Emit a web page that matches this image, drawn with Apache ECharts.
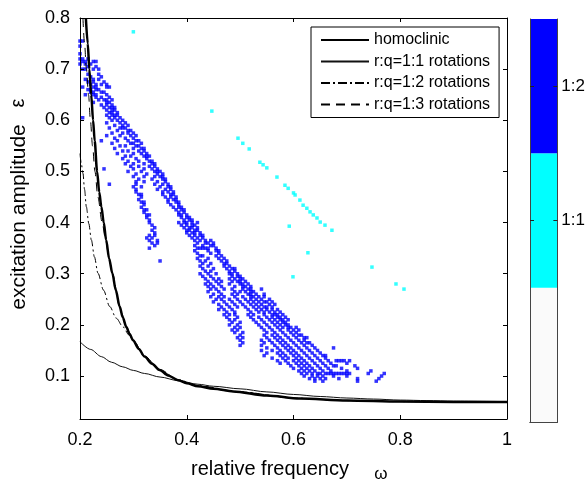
<!DOCTYPE html>
<html><head><meta charset="utf-8">
<script src="https://cdn.jsdelivr.net/npm/echarts@6/dist/echarts.min.js"></script>
<style>html,body{margin:0;padding:0;background:#fff}#c{width:588px;height:481px}</style>
</head><body><div id="c"></div><script>
const FONT = '"Liberation Sans", Arial, sans-serif';
const xTicks = [0.2, 0.4, 0.6, 0.8, 1.0];
const yTicks = [0.1, 0.2, 0.3, 0.4, 0.5, 0.6, 0.7, 0.8];
const colorbarLabels = ['', '1:1', '1:2'];
const colorbarColors = ['#fafafa', '#00ffff', '#0000ff'];
const colorbarTicks = [1.5, 2.5];

// curves [omega, epsilon]
const homoclinic = [[0.2110,0.800],[0.2145,0.750],[0.2175,0.700],[0.2210,0.650],[0.2245,0.600],[0.2275,0.560],[0.2320,0.500],[0.2360,0.460],[0.2400,0.431],[0.2445,0.400],[0.2490,0.366],[0.2545,0.330],[0.2606,0.301],[0.2670,0.268],[0.2743,0.236],[0.2800,0.215],[0.2868,0.196],[0.2930,0.182],[0.2993,0.170],[0.3100,0.153],[0.3210,0.138],[0.3350,0.124],[0.3490,0.112],[0.3650,0.101],[0.3836,0.092],[0.4000,0.086],[0.4210,0.080],[0.4500,0.075],[0.4870,0.070],[0.5500,0.062],[0.6120,0.056],[0.7000,0.052],[0.8000,0.050],[0.9000,0.049],[1.0000,0.049]];
const rot11 = [[0.200,0.167],[0.220,0.152],[0.240,0.138],[0.259,0.127],[0.280,0.118],[0.300,0.111],[0.321,0.105],[0.350,0.098],[0.384,0.091],[0.421,0.084],[0.450,0.080],[0.500,0.075],[0.550,0.069],[0.600,0.064],[0.650,0.060],[0.700,0.057],[0.750,0.055],[0.800,0.053],[0.850,0.052],[0.900,0.051],[1.000,0.050]];
const rot12 = [[0.2000,0.535],[0.2025,0.515],[0.2056,0.496],[0.2085,0.465],[0.2119,0.431],[0.2165,0.398],[0.2213,0.366],[0.2270,0.333],[0.2337,0.301],[0.2440,0.268],[0.2556,0.236],[0.2680,0.213],[0.2806,0.196],[0.2920,0.180],[0.3000,0.169],[0.3210,0.139],[0.3490,0.113],[0.3836,0.093],[0.4210,0.081],[0.5000,0.069],[0.6000,0.057],[0.7000,0.052],[0.8000,0.050],[1.0000,0.049]];
const rot13 = [[0.2055,0.800],[0.2085,0.750],[0.2120,0.700],[0.2160,0.650],[0.2195,0.600],[0.2235,0.550],[0.2280,0.500],[0.2335,0.450],[0.2415,0.400],[0.2480,0.366],[0.2545,0.330],[0.2606,0.301],[0.2743,0.236],[0.2868,0.196],[0.2993,0.170],[0.3210,0.138],[0.3490,0.112],[0.3836,0.092],[0.4210,0.080],[0.4870,0.070],[0.6120,0.056],[0.7000,0.052],[0.8000,0.050],[1.0000,0.049]];

// 1:1 resonance points [omega, epsilon]
const res11 = [[0.300,0.773],[0.447,0.618],[0.496,0.565],[0.505,0.555],[0.517,0.544],[0.537,0.518],[0.543,0.513],[0.550,0.507],[0.569,0.489],[0.584,0.473],[0.590,0.467],[0.600,0.458],[0.603,0.454],[0.612,0.444],[0.618,0.434],[0.625,0.428],[0.631,0.421],[0.637,0.415],[0.644,0.409],[0.650,0.401],[0.659,0.395],[0.672,0.385],[0.592,0.393],[0.627,0.341],[0.747,0.313],[0.599,0.294],[0.792,0.280],[0.807,0.270]];

// 1:2 resonance points, rows: [epsilon, [omega...]]
const res12Upper = [
[0.755,[0.200,0.205]],[0.745,[0.200]],[0.730,[0.200]],[0.720,[0.200,0.205,0.215]],
[0.715,[0.205,0.210,0.225,0.230]],[0.710,[0.200,0.210,0.220]],[0.705,[0.215,0.230]],
[0.700,[0.205,0.210,0.225,0.235]],[0.690,[0.215,0.235]],[0.685,[0.220,0.240]],
[0.680,[0.210,0.225,0.235]],[0.675,[0.215,0.225,0.245]],[0.670,[0.220,0.230,0.240,0.250]],
[0.665,[0.205,0.225,0.230,0.250,0.255]],[0.660,[0.215,0.220,0.230,0.235]],[0.655,[0.220,0.225,0.240,0.245]],
[0.650,[0.210,0.225,0.230,0.250]],[0.645,[0.230,0.240,0.255]],[0.640,[0.235,0.245,0.250,0.260]],
[0.635,[0.225,0.250,0.255]],[0.630,[0.240,0.250,0.260]],[0.625,[0.245,0.255,0.260,0.265]],
[0.620,[0.250,0.260,0.265]],[0.615,[0.255,0.260,0.270]],[0.610,[0.250,0.260,0.265,0.270]],
[0.605,[0.205,0.255,0.265,0.275]],[0.600,[0.260,0.270,0.280]],[0.595,[0.250,0.275,0.285]],
[0.590,[0.265,0.280,0.290]],[0.585,[0.255,0.275,0.280,0.285]],[0.580,[0.270,0.290,0.295]],
[0.575,[0.260,0.280,0.290,0.300]],[0.570,[0.250,0.275,0.295,0.305]],[0.565,[0.265,0.285,0.300]],
[0.560,[0.240,0.270,0.290,0.305,0.310]],[0.555,[0.260,0.295,0.300,0.315]],[0.550,[0.275,0.285,0.305,0.310]],
[0.545,[0.265,0.300,0.315,0.320]],[0.540,[0.280,0.290,0.310,0.320]],[0.535,[0.270,0.300,0.315,0.325]],
[0.530,[0.285,0.295,0.320,0.325,0.330]],[0.525,[0.280,0.305,0.325]],[0.520,[0.290,0.310,0.330,0.335]],
[0.515,[0.285,0.300,0.320,0.335,0.340]],[0.510,[0.295,0.310,0.330,0.340]],[0.505,[0.245,0.300,0.320,0.335,0.345]],
[0.500,[0.290,0.315,0.340,0.345,0.350]],[0.495,[0.305,0.325,0.345,0.355]],[0.490,[0.300,0.320,0.340,0.350,0.355]],
[0.485,[0.310,0.335,0.355,0.360]],[0.480,[0.305,0.320,0.345,0.360]],[0.475,[0.255,0.305,0.340,0.355,0.365]],
[0.470,[0.300,0.315,0.350,0.365,0.370]],[0.465,[0.305,0.345,0.360,0.370]],[0.460,[0.305,0.355,0.365,0.375]],
[0.455,[0.310,0.315,0.355,0.370,0.375]],[0.450,[0.315,0.360,0.370,0.380]],[0.445,[0.310,0.365,0.375,0.380]],
[0.440,[0.315,0.320,0.365,0.380,0.385]],[0.435,[0.320,0.370,0.385]],[0.430,[0.315,0.375,0.385,0.390]],
[0.425,[0.320,0.325,0.380,0.390,0.395]],[0.420,[0.320,0.385,0.395]],[0.415,[0.325,0.330,0.385,0.390,0.400]],
[0.410,[0.325,0.390,0.400,0.405]],[0.405,[0.330,0.395,0.405,0.410]],[0.400,[0.330,0.385,0.395,0.400,0.410,0.420]]
];
const res12Lower = [
[0.395,[0.335,0.390,0.400,0.410,0.415]],[0.390,[0.340,0.395,0.405,0.410,0.420]],[0.385,[0.335,0.400,0.405,0.415,0.420]],
[0.380,[0.340,0.400,0.410,0.415,0.425]],[0.375,[0.330,0.340,0.405,0.415,0.425,0.430]],[0.370,[0.325,0.335,0.410,0.420,0.430]],
[0.365,[0.330,0.345,0.415,0.425,0.435,0.445]],[0.360,[0.335,0.345,0.420,0.435,0.440,0.450]],[0.355,[0.340,0.415,0.430,0.445,0.450]],
[0.350,[0.330,0.420,0.425,0.430,0.435,0.440,0.455]],[0.345,[0.415,0.440,0.455,0.460]],[0.340,[0.420,0.445,0.460]],
[0.335,[0.425,0.430,0.455,0.465]],[0.330,[0.420,0.440,0.460,0.470]],[0.325,[0.350,0.425,0.435,0.465,0.475]],
[0.320,[0.430,0.445,0.470,0.475]],[0.315,[0.425,0.440,0.470,0.480]],[0.310,[0.430,0.450,0.475,0.485,0.490]],
[0.305,[0.435,0.445,0.480,0.490]],[0.300,[0.425,0.440,0.455,0.480,0.485,0.495]],[0.295,[0.430,0.445,0.485,0.495,0.500]],
[0.290,[0.435,0.450,0.460,0.480,0.490,0.500,0.505]],[0.285,[0.440,0.455,0.465,0.485,0.495,0.500,0.510]],
[0.280,[0.435,0.445,0.460,0.480,0.500,0.505,0.515]],[0.275,[0.440,0.450,0.465,0.490,0.505,0.510,0.520]],
[0.270,[0.445,0.455,0.470,0.485,0.505,0.515,0.520,0.540]],[0.265,[0.440,0.460,0.490,0.500,0.510,0.520,0.525]],
[0.260,[0.450,0.465,0.485,0.495,0.515,0.520,0.530,0.545]],[0.255,[0.445,0.460,0.470,0.490,0.505,0.520,0.525,0.535,0.545]],
[0.250,[0.455,0.465,0.480,0.495,0.510,0.520,0.530,0.540,0.555]],[0.245,[0.450,0.470,0.485,0.500,0.515,0.525,0.535,0.545,0.550,0.560]],
[0.240,[0.460,0.475,0.490,0.505,0.520,0.530,0.540,0.555,0.565]],[0.235,[0.465,0.480,0.495,0.510,0.525,0.535,0.545,0.550,0.560]],
[0.230,[0.460,0.470,0.485,0.515,0.530,0.540,0.550,0.560,0.570]],[0.225,[0.475,0.490,0.520,0.535,0.545,0.555,0.565,0.575]],
[0.220,[0.470,0.480,0.490,0.515,0.525,0.545,0.560,0.565,0.570,0.580]],[0.215,[0.475,0.495,0.520,0.535,0.550,0.560,0.570,0.575,0.585]],
[0.210,[0.480,0.490,0.525,0.540,0.555,0.565,0.575,0.580,0.590]],[0.205,[0.485,0.500,0.530,0.545,0.560,0.570,0.580,0.585]],
[0.200,[0.480,0.495,0.535,0.550,0.565,0.575,0.585,0.590]],[0.195,[0.490,0.500,0.540,0.555,0.570,0.580,0.590,0.595,0.605]],
[0.190,[0.485,0.495,0.545,0.560,0.575,0.590,0.600,0.610]],[0.185,[0.490,0.505,0.550,0.565,0.580,0.595,0.605]],
[0.180,[0.500,0.545,0.560,0.570,0.585,0.600,0.610,0.615]],[0.175,[0.495,0.505,0.550,0.565,0.575,0.590,0.605,0.620,0.625]],
[0.170,[0.500,0.540,0.555,0.570,0.580,0.595,0.610,0.620]],[0.165,[0.505,0.545,0.560,0.575,0.585,0.600,0.615,0.625,0.630]],
[0.160,[0.500,0.540,0.565,0.580,0.590,0.605,0.620,0.635]],[0.155,[0.550,0.570,0.585,0.595,0.610,0.625,0.640,0.675]],
[0.150,[0.540,0.560,0.575,0.590,0.600,0.615,0.630,0.645]],[0.145,[0.550,0.570,0.580,0.595,0.605,0.620,0.635,0.650]],
[0.140,[0.545,0.575,0.585,0.600,0.610,0.625,0.640,0.655,0.660]],[0.135,[0.560,0.580,0.590,0.605,0.615,0.630,0.645,0.660]],
[0.130,[0.570,0.585,0.600,0.610,0.620,0.635,0.650,0.665,0.680,0.685,0.690,0.695,0.705]],
[0.125,[0.575,0.590,0.605,0.615,0.625,0.640,0.655,0.670,0.700]],[0.120,[0.595,0.610,0.620,0.630,0.645,0.660,0.675,0.680,0.715]],
[0.115,[0.600,0.615,0.625,0.635,0.650,0.665,0.690,0.720]],[0.110,[0.610,0.620,0.630,0.640,0.655,0.670,0.700,0.745]],
[0.105,[0.615,0.625,0.635,0.645,0.650,0.660,0.665,0.670,0.675,0.680,0.685,0.690,0.695,0.700,0.705,0.740,0.770]],
[0.100,[0.620,0.635,0.645,0.655,0.675,0.700,0.765]],[0.095,[0.630,0.640,0.650,0.660,0.685,0.720,0.760]],
[0.090,[0.640,0.655,0.720,0.755]]
];

const res12 = [];
res12Upper.concat(res12Lower).forEach(([e, ws]) => ws.forEach(w => res12.push([w, e])));

const YMIN = 0.016, YMAX = 0.8;
const chart = echarts.init(document.getElementById('c'), null, {renderer: 'canvas'});
const tickStyle = {show: true, inside: true, length: 4, lineStyle: {color: '#000', width: 1}};
const fmt = v => String(Math.round(v * 10) / 10);

const option = {
  animation: false,
  backgroundColor: '#fff',
  textStyle: {fontFamily: FONT},
  grid: [
    {left: 80, top: 18, width: 427, height: 401},
    {left: 530, top: 19, width: 32, height: 403}
  ],
  xAxis: [
    {type: 'value', gridIndex: 0, min: 0.2, max: 1, interval: 0.2, position: 'bottom', z: 10,
     axisLine: {show: true, onZero: false, lineStyle: {color: '#000', width: 1}},
     axisTick: Object.assign({}, tickStyle, {customValues: xTicks}),
     axisLabel: {customValues: xTicks, formatter: fmt, color: '#000', fontSize: 18, fontFamily: FONT, margin: 12},
     splitLine: {show: false}},
    {type: 'value', gridIndex: 0, min: 0.2, max: 1, interval: 0.2, position: 'top', z: 10,
     axisLine: {show: true, onZero: false, lineStyle: {color: '#000', width: 1}},
     axisTick: Object.assign({}, tickStyle, {customValues: xTicks}),
     axisLabel: {show: false}, splitLine: {show: false}},
    {type: 'category', gridIndex: 1, data: ['c'], position: 'bottom', z: 10,
     axisLine: {show: true, lineStyle: {color: '#444', width: 1}}, axisTick: {show: false}, axisLabel: {show: false}},
    {type: 'category', gridIndex: 1, data: ['c'], position: 'top', z: 10,
     axisLine: {show: true, lineStyle: {color: '#444', width: 1}}, axisTick: {show: false}, axisLabel: {show: false}}
  ],
  yAxis: [
    {type: 'value', gridIndex: 0, min: YMIN, max: YMAX, position: 'left', z: 10,
     axisLine: {show: true, onZero: false, lineStyle: {color: '#000', width: 1}},
     axisTick: Object.assign({}, tickStyle, {customValues: yTicks}),
     axisLabel: {customValues: yTicks, formatter: fmt, color: '#000', fontSize: 18, fontFamily: FONT, margin: 10},
     splitLine: {show: false}},
    {type: 'value', gridIndex: 0, min: YMIN, max: YMAX, position: 'right', z: 10,
     axisLine: {show: true, onZero: false, lineStyle: {color: '#000', width: 1}},
     axisTick: Object.assign({}, tickStyle, {customValues: yTicks}),
     axisLabel: {show: false}, splitLine: {show: false}},
    {type: 'value', gridIndex: 1, min: 0, max: 3, position: 'right', z: 10,
     axisLine: {show: true, lineStyle: {color: '#444', width: 1}},
     axisTick: {show: true, inside: true, length: 4, customValues: colorbarTicks, lineStyle: {color: '#222'}},
     axisLabel: {customValues: colorbarTicks, formatter: v => colorbarLabels[Math.floor(v)], color: '#000', fontSize: 17, fontFamily: FONT, margin: 4},
     splitLine: {show: false}},
    {type: 'value', gridIndex: 1, min: 0, max: 3, position: 'left', z: 10,
     axisLine: {show: true, lineStyle: {color: '#444', width: 1}},
     axisTick: {show: true, inside: true, length: 4, customValues: colorbarTicks, lineStyle: {color: '#222'}},
     axisLabel: {show: false}, splitLine: {show: false}}
  ],
  legend: {
    data: ['homoclinic', 'r:q=1:1 rotations', 'r:q=1:2 rotations', 'r:q=1:3 rotations'],
    orient: 'vertical', left: 311, top: 27, itemWidth: 48, itemHeight: 14, itemGap: 5.5,
    padding: [5, 9, 5, 9], backgroundColor: '#fff', borderColor: '#000', borderWidth: 1,
    selectedMode: false,
    itemStyle: {opacity: 0, borderWidth: 0},
    lineStyle: {opacity: 1},
    textStyle: {fontFamily: FONT, fontSize: 16, color: '#000', lineHeight: 16}
  },
  series: [
    {name: '1:2', type: 'scatter', xAxisIndex: 0, yAxisIndex: 0, data: res12, symbol: 'rect', symbolSize: 3.5,
     itemStyle: {color: '#0000ff'}, silent: true, z: 2},
    {name: '1:1', type: 'scatter', xAxisIndex: 0, yAxisIndex: 0, data: res11, symbol: 'rect', symbolSize: 3.5,
     itemStyle: {color: '#00ffff'}, silent: true, z: 2},
    {name: 'r:q=1:3 rotations', type: 'line', data: rot13, symbol: 'none', showSymbol: false, smooth: 0.3, smoothMonotone: 'x',
     lineStyle: {color: '#000', width: 1, type: [9, 6]}, itemStyle: {color: '#000'}, z: 4, silent: true, clip: true},
    {name: 'r:q=1:2 rotations', type: 'line', data: rot12, symbol: 'none', showSymbol: false, smooth: 0.3, smoothMonotone: 'x',
     lineStyle: {color: '#000', width: 1, type: [9, 3, 2, 3]}, itemStyle: {color: '#000'}, z: 4, silent: true, clip: true},
    {name: 'r:q=1:1 rotations', type: 'line', data: rot11, symbol: 'none', showSymbol: false, smooth: 0.3, smoothMonotone: 'x',
     lineStyle: {color: '#111', width: 1}, itemStyle: {color: '#111'}, z: 4, silent: true, clip: true},
    {name: 'homoclinic', type: 'line', data: homoclinic, symbol: 'none', showSymbol: false, smooth: 0.3, smoothMonotone: 'x',
     lineStyle: {color: '#000', width: 2.5}, itemStyle: {color: '#000'}, z: 5, silent: true, clip: true},
    {name: 'cb0', type: 'bar', xAxisIndex: 2, yAxisIndex: 2, stack: 'cb', data: [1], barWidth: '100%', itemStyle: {color: colorbarColors[0]}, silent: true, z: 1},
    {name: 'cb1', type: 'bar', xAxisIndex: 2, yAxisIndex: 2, stack: 'cb', data: [1], barWidth: '100%', itemStyle: {color: colorbarColors[1]}, silent: true, z: 1},
    {name: 'cb2', type: 'bar', xAxisIndex: 2, yAxisIndex: 2, stack: 'cb', data: [1], barWidth: '100%', itemStyle: {color: colorbarColors[2]}, silent: true, z: 1}
  ],
  graphic: [
    {type: 'text', x: 270, y: 469, style: {text: 'relative frequency', font: '20px ' + FONT, fill: '#000', textAlign: 'center', textVerticalAlign: 'middle'}},
    {type: 'text', x: 381, y: 474, style: {text: 'ω', font: '17px ' + FONT, fill: '#000', textAlign: 'center', textVerticalAlign: 'middle'}},
    {type: 'text', x: 19, y: 217, rotation: Math.PI / 2, style: {text: 'excitation amplitude', font: '21px ' + FONT, fill: '#000', textAlign: 'center', textVerticalAlign: 'middle'}},
    {type: 'text', x: 18, y: 103, rotation: Math.PI / 2, style: {text: 'ε', font: '20px ' + FONT, fill: '#000', textAlign: 'center', textVerticalAlign: 'middle'}}
  ]
};
chart.setOption(option);
</script></body></html>
